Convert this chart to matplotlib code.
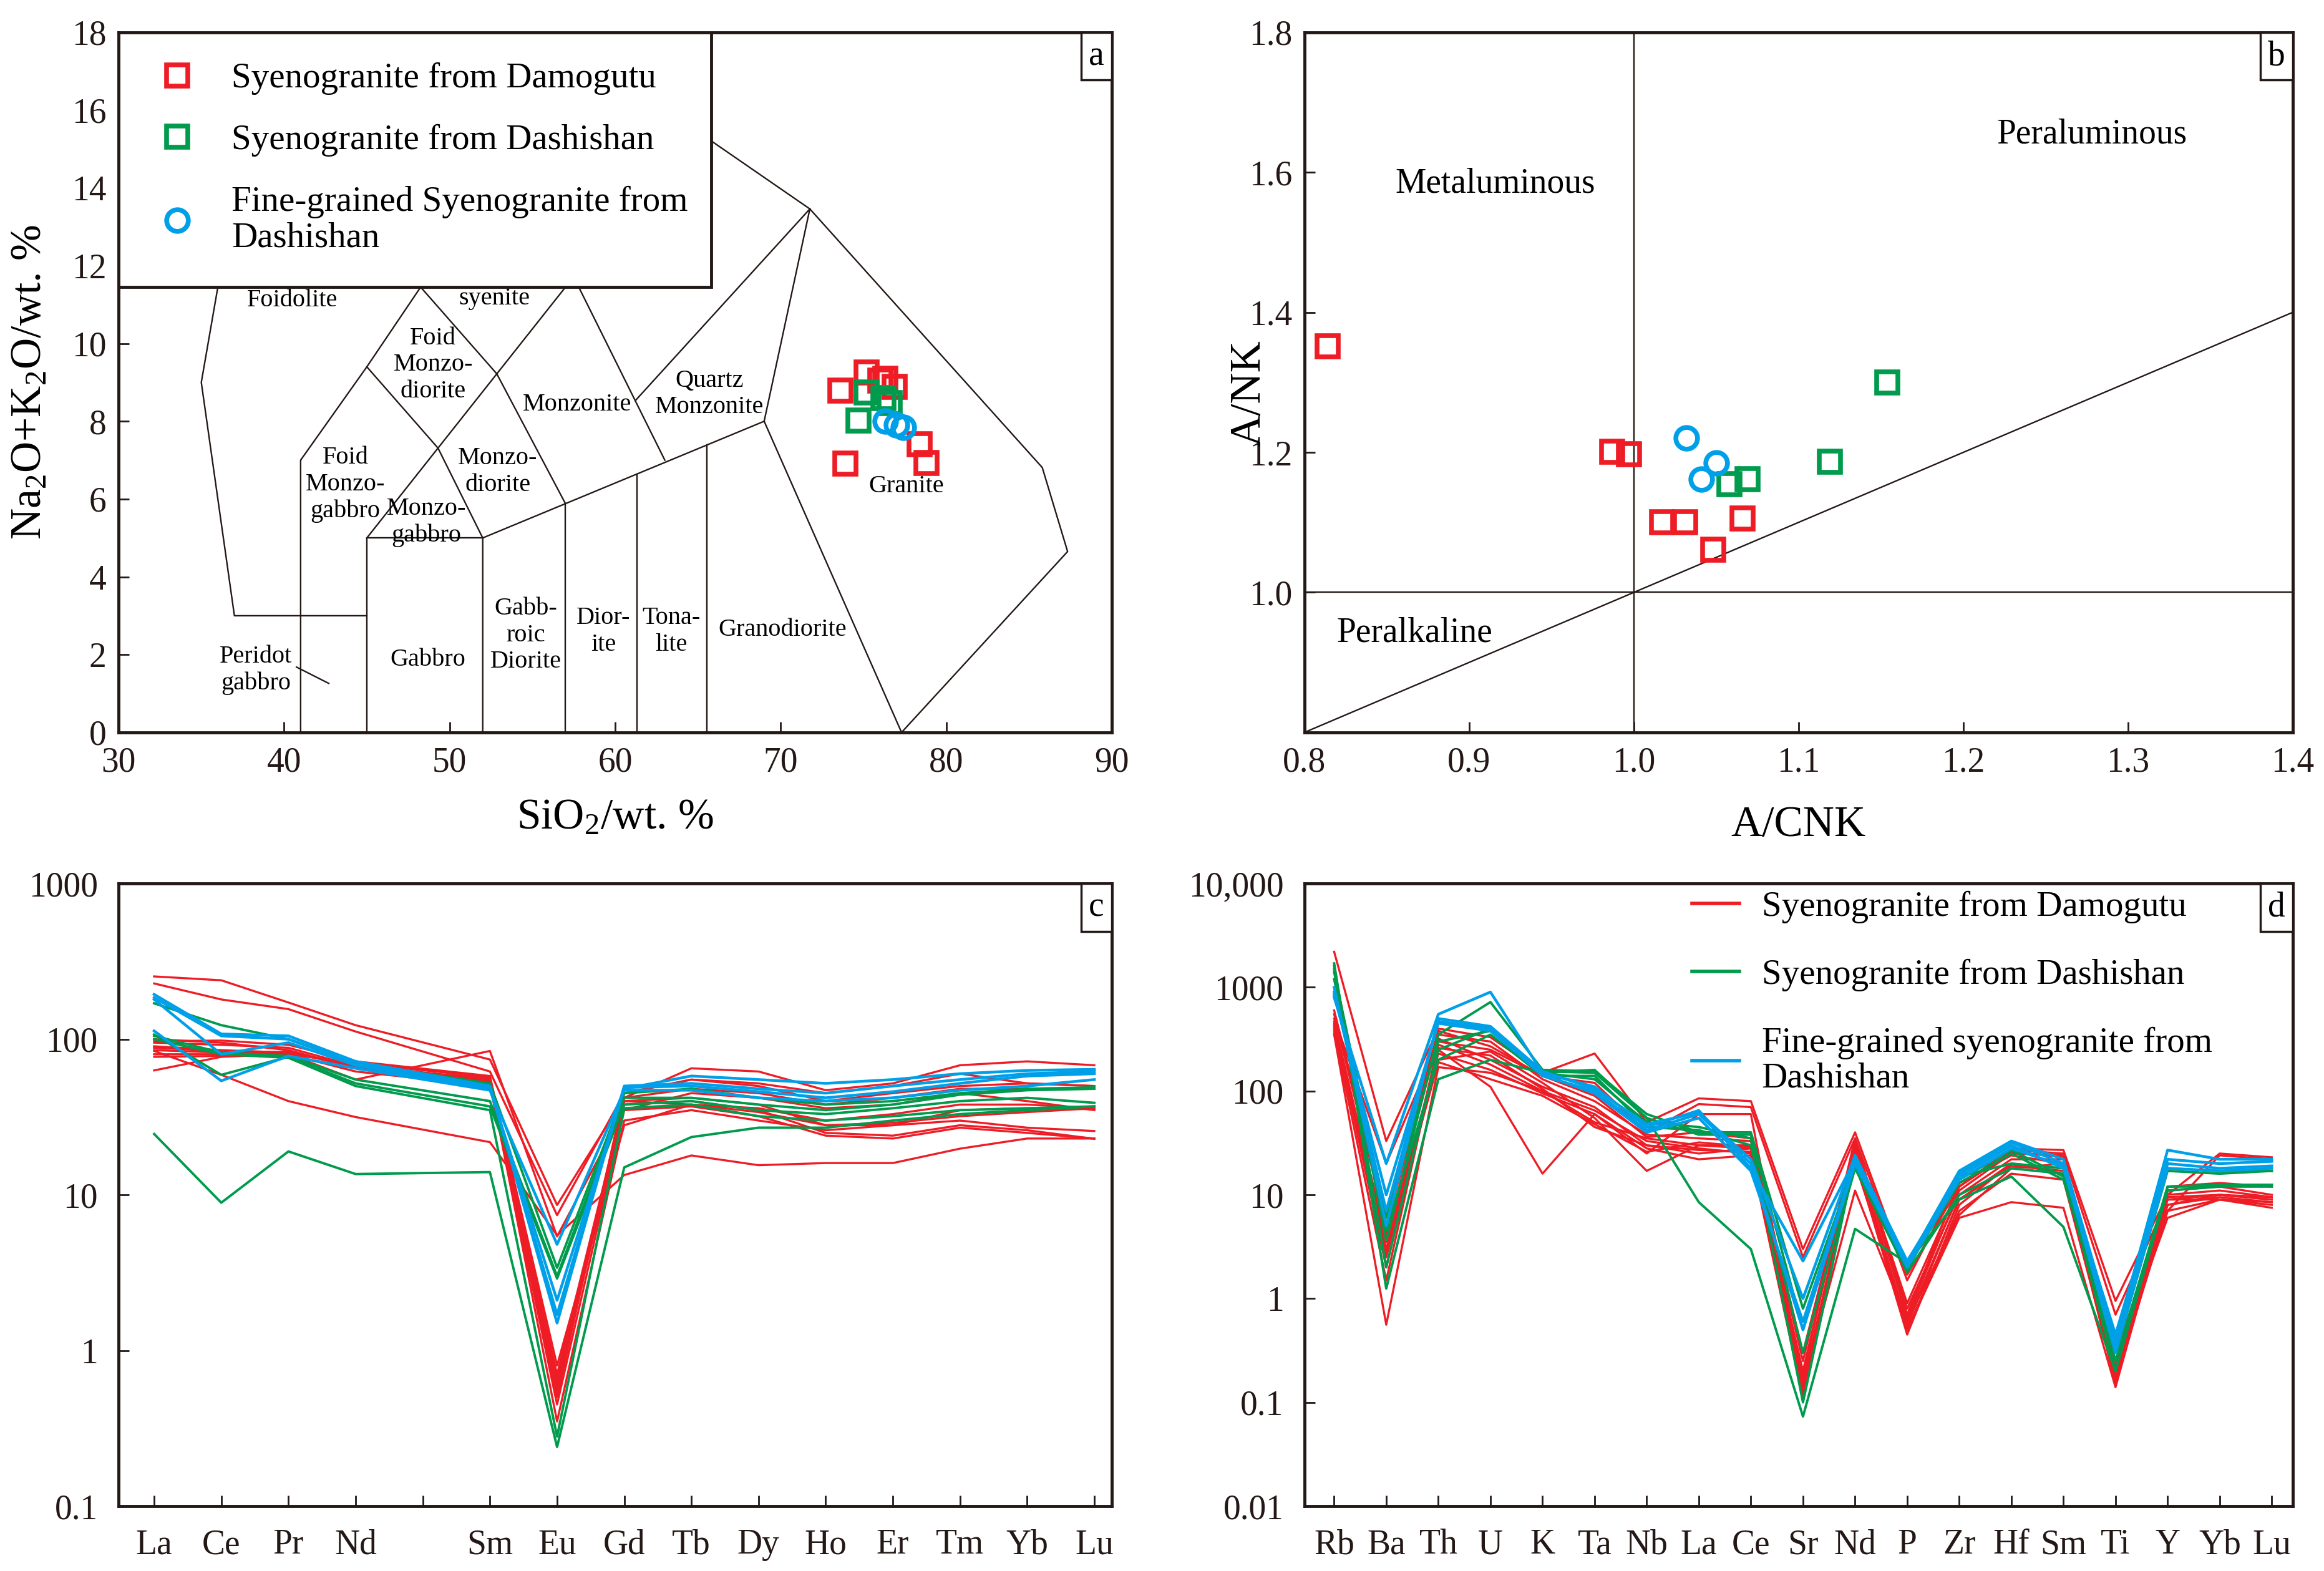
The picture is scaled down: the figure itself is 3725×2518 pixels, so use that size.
import matplotlib

matplotlib.use("Agg")
import matplotlib.pyplot as plt
from matplotlib.offsetbox import AnchoredText
from matplotlib.patches import Rectangle
from matplotlib.ticker import NullLocator

plt.rcParams["font.family"] = ["Liberation Serif", "DejaVu Serif"]
plt.rcParams["mathtext.fontset"] = "custom"
plt.rcParams["mathtext.rm"] = "Liberation Serif"
plt.rcParams["mathtext.default"] = "regular"

RED = "#ee1c25"
GREEN = "#009b4c"
BLUE = "#00a0e9"
INK = "#231815"

# ---- panel a: TAS (SiO2 vs Na2O+K2O) ----
A_RED_SIO2 = [73.6, 75.2, 76.0, 76.9, 76.3, 78.4, 78.8, 73.9]
A_RED_ALK = [8.79, 9.25, 9.04, 8.88, 9.10, 7.41, 6.93, 6.92]
A_GREEN_SIO2 = [75.2, 76.6, 74.7, 76.2]
A_GREEN_ALK = [8.74, 8.47, 8.02, 8.60]
A_BLUE_SIO2 = [76.3, 77.4, 77.0]
A_BLUE_ALK = [8.01, 7.85, 7.90]

TAS_LINES = [
    [(36.0, 11.45), (35.0, 9.0), (37.0, 3.0), (45.0, 3.0)],
    [(41.0, 0.0), (41.0, 7.0), (45.0, 9.4), (48.25, 11.45)],
    [(48.25, 11.45), (52.85, 9.22), (57.0, 5.88)],
    [(45.0, 9.4), (49.3, 7.31), (52.0, 5.0)],
    [(57.0, 11.45), (45.0, 5.0)],
    [(45.0, 0.0), (45.0, 5.0), (52.0, 5.0)],
    [(52.0, 0.0), (52.0, 5.0), (69.0, 8.0)],
    [(57.0, 0.0), (57.0, 5.88)],
    [(61.3, 0.0), (61.3, 6.64)],
    [(65.55, 0.0), (65.55, 7.39)],
    [(57.8, 11.45), (63.0, 7.0)],
    [(61.26, 8.55), (71.76, 13.46)],
    [(65.8, 15.21), (71.76, 13.46), (85.8, 6.81), (87.33, 4.65), (77.3, 0.0)],
    [(69.0, 8.0), (71.76, 13.46)],
    [(69.0, 8.0), (77.3, 0.0)],
    [(40.75, 1.68), (42.7, 1.26)],
]

TAS_NAMES = [
    ("Foidolite", 40.5, 11.1),
    ("syenite", 52.7, 11.15),
    ("Foid\nMonzo-\ndiorite", 49.0, 9.45),
    ("Monzonite", 57.7, 8.43),
    ("Quartz\nMonzonite", 65.7, 8.7),
    ("Foid\nMonzo-\ngabbro", 43.7, 6.37),
    ("Monzo-\ndiorite", 52.9, 6.7),
    ("Monzo-\ngabbro", 48.6, 5.4),
    ("Granite", 77.6, 6.33),
    ("Peridot\ngabbro", 38.3, 1.6),
    ("Gabbro", 48.7, 1.87),
    ("Gabb-\nroic\nDiorite", 54.6, 2.5),
    ("Dior-\nite", 59.3, 2.6),
    ("Tona-\nlite", 63.4, 2.6),
    ("Granodiorite", 70.1, 2.63),
]

# ---- panel b: A/CNK vs A/NK ----
B_RED_ACNK = [0.814, 0.987, 0.997, 1.017, 1.031, 1.048, 1.066]
B_RED_ANK = [1.352, 1.201, 1.197, 1.100, 1.100, 1.061, 1.106]
B_GREEN_ACNK = [1.154, 1.119, 1.058, 1.069]
B_GREEN_ANK = [1.300, 1.187, 1.155, 1.162]
B_BLUE_ACNK = [1.032, 1.050, 1.041]
B_BLUE_ANK = [1.221, 1.185, 1.162]

# ---- panel c: chondrite-normalised REE ----
REE_LABELS = ["La", "Ce", "Pr", "Nd", "", "Sm", "Eu", "Gd", "Tb", "Dy", "Ho", "Er", "Tm", "Yb", "Lu"]
REE_RED = [
    [253, 239, 172, 123, 74, 8.6, 42, 65, 62, 47, 52, 68, 72, 68],
    [228, 180, 156, 112, 62, 7.4, 45, 55, 52, 45, 50, 60, 52, 50],
    [63, 77, 80, 55, 84, 5.4, 35, 45, 42, 36, 38, 45, 40, 35],
    [84, 59, 40, 31.6, 21.8, 5.5, 13.4, 17.9, 15.5, 16, 16, 19.8, 23, 23],
    [97, 98, 92, 72, 58, 0.7, 40, 42, 38, 28, 28, 30, 27, 25.7],
    [90, 85, 82, 68, 55, 0.55, 38, 40, 35, 25, 24, 28, 26, 22.9],
    [80, 80, 78, 65, 52, 0.45, 35, 37, 32, 24, 23, 27, 25, 23],
    [77, 78, 80, 62, 50, 0.6, 42, 48, 45, 38, 42, 48, 48, 48],
    [100, 95, 85, 65, 53, 0.35, 30, 35, 30, 26, 28, 35, 36, 35.5],
    [88, 84, 80, 70, 57, 0.8, 28, 38, 36, 30, 33, 38, 38, 36],
    [95, 92, 88, 67, 54, 0.5, 45, 55, 50, 40, 45, 50, 52, 50],
    [85, 82, 83, 66, 56, 0.65, 40, 38, 34, 28, 29, 32, 34, 36],
]
REE_GREEN = [
    [24.6, 8.9, 19, 13.6, 14, 0.24, 15, 23.5, 27, 27, 30, 33, 35, 37],
    [170, 123, 100, 70, 52, 3.4, 45, 48, 42, 38, 40, 45, 48, 49],
    [107, 59, 77, 52, 37, 2.9, 38, 40, 35, 33, 36, 40, 42, 39],
    [100, 80, 76, 50, 35, 0.28, 36, 38, 32, 30, 32, 35, 36, 37],
    [105, 82, 78, 55, 40, 3.0, 42, 42, 38, 35, 38, 44, 47, 48],
]
REE_BLUE = [
    [194, 108, 105, 72, 50, 1.5, 50, 52, 48, 45, 50, 55, 60, 62],
    [180, 80, 95, 68, 48, 2.1, 48, 58, 55, 52, 55, 60, 63, 64],
    [113, 54, 78, 65, 47, 4.8, 47, 47, 42, 40, 42, 47, 50, 55],
    [185, 105, 100, 70, 49, 1.7, 49, 50, 46, 42, 46, 52, 58, 60],
]

# ---- panel d: primitive-mantle-normalised spider ----
TRACE_LABELS = ["Rb", "Ba", "Th", "U", "K", "Ta", "Nb", "La", "Ce", "Sr",
                "Nd", "P", "Zr", "Hf", "Sm", "Ti", "Y", "Yb", "Lu"]
TRACE_RED = [
    [2200, 33, 400, 330, 150, 230, 50, 85, 80, 3.0, 40, 1.7, 12, 28, 27, 0.95, 10, 25, 23],
    [500, 20, 300, 250, 140, 120, 40, 75, 70, 2.5, 35, 1.5, 14, 27, 25, 0.7, 9, 10, 9.5],
    [400, 2.5, 250, 110, 16, 60, 25, 60, 60, 0.15, 11, 0.6, 6.4, 18, 20, 0.25, 6, 9, 8],
    [350, 0.56, 170, 150, 100, 50, 35, 30, 30, 0.12, 25, 0.5, 6, 8.5, 7.5, 0.14, 9, 9, 7.5],
    [450, 3, 200, 240, 120, 55, 17, 30, 28, 0.2, 30, 0.8, 10, 22, 22, 0.3, 8, 10, 9],
    [380, 4, 320, 200, 110, 70, 30, 25, 28, 0.13, 28, 0.55, 9, 20, 18, 0.2, 7, 9, 8.5],
    [420, 2, 280, 180, 100, 65, 33, 28, 25, 0.18, 32, 0.65, 11, 25, 24, 0.18, 9.5, 10, 9],
    [550, 5, 350, 300, 130, 80, 38, 35, 33, 0.25, 35, 0.7, 13, 24, 20, 0.16, 11, 12, 10],
    [470, 3.5, 230, 160, 95, 60, 28, 22, 24, 0.11, 22, 0.45, 8, 20, 16, 0.2, 10, 11, 9.5],
    [600, 6, 380, 270, 140, 90, 36, 40, 35, 0.3, 30, 0.9, 12, 26, 23, 0.22, 12, 13, 12],
    [360, 1.5, 260, 220, 105, 45, 30, 27, 26, 0.14, 26, 0.5, 7, 16, 14, 0.17, 7, 24, 22],
    [430, 2.8, 190, 130, 90, 48, 26, 32, 29, 0.16, 20, 0.6, 9, 19, 17, 0.15, 8, 9.5, 8.5],
]
TRACE_GREEN = [
    [1700, 1.25, 130, 200, 150, 160, 55, 8.5, 3.0, 0.073, 4.7, 2.2, 9, 15, 4.9, 0.2, 12, 12.5, 12.5],
    [1500, 3.6, 350, 720, 160, 155, 60, 40, 40, 0.8, 20, 2.0, 13, 25, 14, 0.3, 17, 16, 17],
    [1600, 2, 250, 400, 150, 130, 50, 45, 35, 0.1, 22, 1.9, 15, 20, 18, 0.25, 12, 12, 12.5],
    [1200, 4.5, 200, 350, 140, 140, 45, 42, 30, 0.3, 18, 1.8, 10, 18, 16, 0.2, 11, 12, 12],
    [1400, 6, 300, 380, 155, 150, 55, 38, 38, 0.5, 24, 2.1, 14, 27, 15, 0.35, 18, 17, 17],
]
TRACE_BLUE = [
    [800, 20, 550, 900, 150, 110, 45, 65, 18, 2.3, 22, 2.2, 17, 33, 22, 0.4, 27, 22, 22],
    [900, 7, 470, 400, 140, 100, 42, 60, 20, 0.5, 20, 2.1, 16, 32, 20, 0.35, 20, 18, 19],
    [1000, 5, 500, 420, 155, 105, 48, 62, 22, 1.0, 24, 2.3, 15, 30, 18, 0.45, 22, 20, 21],
    [850, 10, 450, 380, 145, 95, 40, 55, 17, 0.6, 21, 2.0, 14, 28, 19, 0.3, 18, 17, 18],
]

TICK_SIZE = 40
LABEL_SIZE = 50
LEGEND_SIZE = 41


def style_axes(ax):
    for spine in ax.spines.values():
        spine.set_linewidth(3.5)
        spine.set_color(INK)
    ax.tick_params(direction="in", length=12, width=2, colors=INK, labelsize=TICK_SIZE,
                   top=False, right=False)
    ax.tick_params(axis="x", pad=16)
    ax.tick_params(axis="y", pad=14)


def panel_tag(ax, letter):
    tag = AnchoredText(letter, loc="upper right", pad=0.22, borderpad=0,
                       prop=dict(size=40))
    tag.patch.set_linewidth(2.5)
    tag.patch.set_edgecolor(INK)
    ax.add_artist(tag)


fig = plt.figure(figsize=(37.25, 25.18), dpi=100)

# ---------------- a ----------------
ax = fig.add_axes([0.0510, 0.5338, 0.4274, 0.4456])
style_axes(ax)
for line in TAS_LINES:
    xs, ys = zip(*line)
    ax.plot(xs, ys, color=INK, lw=1.7, zorder=2)
for name, x, y in TAS_NAMES:
    ax.text(x, y, name, fontsize=29, ha="center", va="center", linespacing=1.2, zorder=3)

sq = dict(ls="none", mfc="none", ms=25, mew=5.5, zorder=4)
ax.plot(A_RED_SIO2, A_RED_ALK, marker="s", mec=RED, label="Syenogranite from Damogutu", **sq)
ax.plot(A_GREEN_SIO2, A_GREEN_ALK, marker="s", mec=GREEN, label="Syenogranite from Dashishan", **sq)
ax.plot(A_BLUE_SIO2, A_BLUE_ALK, marker="o", mec=BLUE,
        label="Fine-grained Syenogranite from\nDashishan", **sq)

ax.add_patch(Rectangle((30, 11.45), 35.8, 6.55, facecolor="white", edgecolor=INK,
                       lw=3.5, zorder=4.5))
leg = ax.legend(loc="upper left", bbox_to_anchor=(0.011, 1.0), borderaxespad=0,
                borderpad=0.85, frameon=False, fontsize=LEGEND_SIZE, handlelength=1.0,
                handletextpad=1.03, labelspacing=0.82)
leg.set_zorder(6)
for t in leg.get_texts():
    t.set_linespacing(1.12)

ax.set_xlim(30, 90)
ax.set_ylim(0, 18)
ax.set_xticks(range(30, 91, 10))
ax.set_yticks(range(0, 19, 2))
ax.set_xlabel("SiO$_2$/wt. %", fontsize=LABEL_SIZE)
ax.set_ylabel("Na$_2$O+K$_2$O/wt. %", fontsize=LABEL_SIZE)
ax.xaxis.label.set_verticalalignment("center")
ax.yaxis.label.set_verticalalignment("center")
ax.xaxis.set_label_coords(0.5, -0.123)
ax.yaxis.set_label_coords(-0.089, 0.5)
panel_tag(ax, "a")

# ---------------- b ----------------
ax = fig.add_axes([0.5613, 0.5338, 0.4252, 0.4456])
style_axes(ax)
ax.axvline(1.0, color=INK, lw=1.7, zorder=2)
ax.axhline(1.0, color=INK, lw=1.7, zorder=2)
ax.plot([0.8, 1.4], [0.8, 1.4], color=INK, lw=1.7, zorder=2)
ax.plot(B_RED_ACNK, B_RED_ANK, marker="s", mec=RED, **sq)
ax.plot(B_GREEN_ACNK, B_GREEN_ANK, marker="s", mec=GREEN, **sq)
ax.plot(B_BLUE_ACNK, B_BLUE_ANK, marker="o", mec=BLUE, **sq)
ax.text(0.916, 1.584, "Metaluminous", fontsize=40, ha="center", va="center")
ax.text(1.278, 1.654, "Peraluminous", fontsize=40, ha="center", va="center")
ax.text(0.867, 0.942, "Peralkaline", fontsize=40, ha="center", va="center")
ax.set_xlim(0.8, 1.4)
ax.set_ylim(0.8, 1.8)
ax.set_xticks([0.8, 0.9, 1.0, 1.1, 1.2, 1.3, 1.4])
ax.set_xticklabels(["0.8", "0.9", "1.0", "1.1", "1.2", "1.3", "1.4"])
ax.set_yticks([1.0, 1.2, 1.4, 1.6, 1.8])
ax.set_yticklabels(["1.0", "1.2", "1.4", "1.6", "1.8"])
ax.set_xlabel("A/CNK", fontsize=LABEL_SIZE)
ax.set_ylabel("A/NK", fontsize=LABEL_SIZE)
ax.xaxis.label.set_verticalalignment("center")
ax.yaxis.label.set_verticalalignment("center")
ax.xaxis.set_label_coords(0.5, -0.133)
ax.yaxis.set_label_coords(-0.0556, 0.485)
panel_tag(ax, "b")

# ---------------- c ----------------
ax = fig.add_axes([0.0510, 0.0413, 0.4274, 0.3963])
style_axes(ax)
ree_pos = [i for i, lab in enumerate(REE_LABELS) if lab]
for group, color, lw in ((REE_RED, RED, 2.4), (REE_GREEN, GREEN, 2.8), (REE_BLUE, BLUE, 3.2)):
    for row in group:
        ax.plot(ree_pos, row, color=color, lw=lw)
ax.set_yscale("log")
ax.set_ylim(0.1, 1000)
ax.set_xlim(-0.53, 14.26)
ax.set_xticks(range(len(REE_LABELS)))
ax.set_xticklabels(REE_LABELS)
ax.set_yticks([0.1, 1, 10, 100, 1000])
ax.set_yticklabels(["0.1", "1", "10", "100", "1000"])
ax.yaxis.set_minor_locator(NullLocator())
ax.tick_params(axis="x", pad=26)
ax.tick_params(axis="y", pad=24)
panel_tag(ax, "c")

# ---------------- d ----------------
ax = fig.add_axes([0.5613, 0.0413, 0.4252, 0.3963])
style_axes(ax)
names = ["Syenogranite from Damogutu", "Syenogranite from Dashishan",
         "Fine-grained syenogranite from\nDashishan"]
for group, color, lw, name in ((TRACE_RED, RED, 2.4, names[0]), (TRACE_GREEN, GREEN, 2.8, names[1]),
                               (TRACE_BLUE, BLUE, 3.2, names[2])):
    for i, row in enumerate(group):
        ax.plot(range(len(TRACE_LABELS)), row, color=color, lw=lw,
                label=name if i == 0 else None)
ax.set_yscale("log")
ax.set_ylim(0.01, 10000)
ax.set_xlim(-0.57, 18.4)
ax.set_xticks(range(len(TRACE_LABELS)))
ax.set_xticklabels(TRACE_LABELS)
ax.set_yticks([0.01, 0.1, 1, 10, 100, 1000, 10000])
ax.set_yticklabels(["0.01", "0.1", "1", "10", "100", "1000", "10,000"])
ax.yaxis.set_minor_locator(NullLocator())
ax.tick_params(axis="x", pad=26)
ax.tick_params(axis="y", pad=24)
leg = ax.legend(loc="upper left", bbox_to_anchor=(0.385, 1.0), borderaxespad=0,
                borderpad=0.2, frameon=False, fontsize=LEGEND_SIZE, handlelength=1.33,
                handletextpad=0.63, labelspacing=1.0)
for h in leg.legend_handles:
    h.set_linewidth(4)
for t in leg.get_texts():
    t.set_linespacing(1.12)
panel_tag(ax, "d")

fig.savefig("out.png", dpi=100, facecolor="white")
